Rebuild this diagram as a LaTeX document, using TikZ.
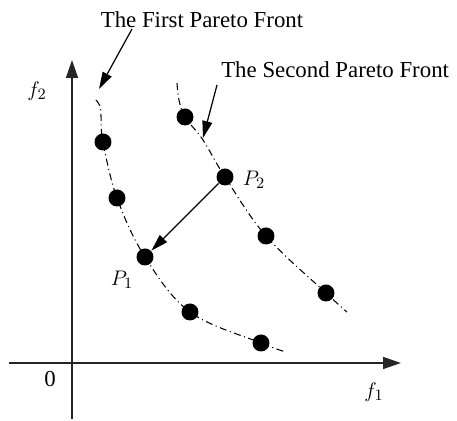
\documentclass[tikz,border=0pt]{standalone}
\usepackage{fontspec}
\setmainfont{Liberation Serif}
\usetikzlibrary{arrows.meta, positioning}
\tikzset{
  every picture/.style={font=\fontsize{13}{15}\selectfont, line width=0.6pt},
  axis/.style={-{Triangle[length=3.6mm, width=2.4mm]}, draw=black!85, line width=0.9pt},
  arrow/.style={-{Triangle[length=3.4mm, width=2mm]}, draw=black, line width=0.7pt},
  front/.style={dash pattern=on 4pt off 2pt on 0.6pt off 2pt, line width=0.6pt},
  dot/.style={fill=black, circle, inner sep=0pt, minimum size=0.34cm},
  note/.style={inner sep=1pt},
}
\begin{document}
\begin{tikzpicture}[x=0.02cm, y=-0.02cm]
  \useasboundingbox (0,0) rectangle (457,421);
  % axes
  \coordinate (xs) at (9,363);
  \coordinate (xe) at (401,363);
  \coordinate (ys) at (72,419);
  \coordinate (ye) at (72,60);
  \draw[axis] (xs) -- (xe);
  \draw[axis] (ys) -- (ye);
  \node (zero) at (50,379) {0};
  \node (f1) at (374,392) {$f_1$};
  \node (f2) at (37,91) {$f_2$};
  % pareto fronts
  \draw[front] plot[smooth, tension=0.6] coordinates {(96,100) (100,106) (101,116) (103,142) (117,198) (145,257) (190,312) (261,343) (286,352)};
  \draw[front] plot[smooth, tension=0.6] coordinates {(177,83) (179,100) (185,117) (203,140) (225,177) (266,236) (326,293) (347,312)};
  % first front points
  \node[dot] (a1) at (103,142) {};
  \node[dot] (a2) at (117,198) {};
  \node[dot] (p1) at (145,257) {};
  \node[dot] (a4) at (190,312) {};
  \node[dot] (a5) at (261,343) {};
  % second front points
  \node[dot] (b1) at (185,117) {};
  \node[dot] (p2) at (225,177) {};
  \node[dot] (b3) at (266,236) {};
  \node[dot] (b4) at (326,293) {};
  \node (lp1) at (122,280) {$P_1$};
  \node (lp2) at (254,180) {$P_2$};
  \draw[arrow] (p2) -- (p1);
  % labels
  \node[note, anchor=base] (first) at (202,28) {The First Pareto Front};
  \node[note, anchor=base west] (second) at (219,78) {The Second Pareto Front};
  \coordinate (s1) at (132,29);
  \coordinate (t1) at (99,89);
  \coordinate (s2) at (217,85);
  \coordinate (t2) at (203,138);
  \draw[arrow] (s1) -- (t1);
  \draw[arrow] (s2) -- (t2);
\end{tikzpicture}
\end{document}
